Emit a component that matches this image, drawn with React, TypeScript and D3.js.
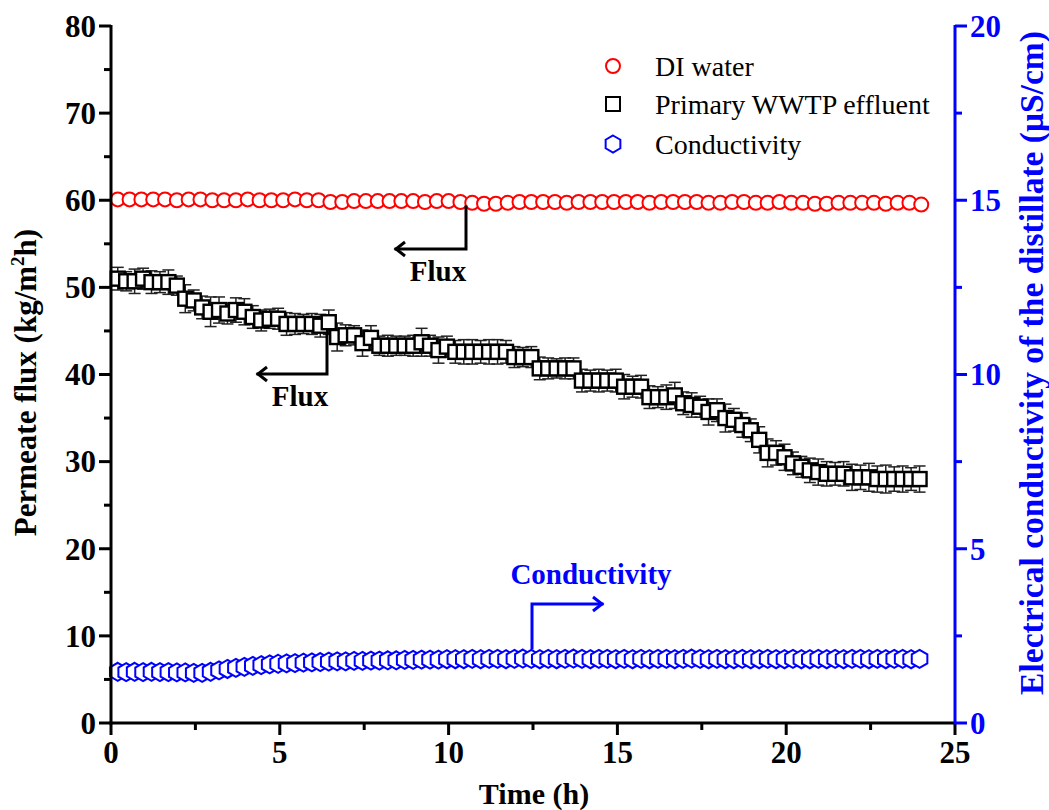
import React from 'react';
import * as d3 from 'd3';

// sampling of the runs (h)
const T0 = 0.2;
const STEP_FLUX = 0.25;
const STEP_DI = 0.35;

// DI water flux (kg/m2h)
const diWater = [
  60.1, 60.1, 60.1, 60.1, 60.1, 60.0, 60.1, 60.1, 60.0, 60.0,
  60.0, 60.1, 60.0, 60.0, 60.0, 60.1, 60.0, 60.0, 59.8, 59.8,
  59.9, 59.9, 59.9, 59.9, 59.9, 59.9, 59.8, 59.9, 59.9, 59.8,
  59.7, 59.6, 59.6, 59.7, 59.8, 59.8, 59.8, 59.8, 59.7, 59.8,
  59.8, 59.8, 59.8, 59.8, 59.8, 59.7, 59.8, 59.8, 59.8, 59.8,
  59.7, 59.7, 59.8, 59.8, 59.7, 59.7, 59.8, 59.7, 59.7, 59.6,
  59.6, 59.7, 59.7, 59.7, 59.7, 59.6, 59.7, 59.7, 59.5,
];

// primary WWTP effluent flux (kg/m2h) and its error
const wwtp = [
  51.0, 50.7, 50.7, 51.0, 50.6, 50.6, 50.6, 50.2, 48.7, 48.5,
  47.7, 47.2, 47.4, 47.0, 47.4, 47.2, 46.6, 46.2, 46.4, 46.4,
  45.8, 45.8, 45.8, 45.8, 45.6, 46.0, 44.3, 44.5, 44.5, 43.6,
  44.2, 43.3, 43.3, 43.3, 43.3, 43.3, 43.7, 43.3, 42.8, 43.2,
  42.6, 42.6, 42.6, 42.6, 42.6, 42.6, 42.6, 42.0, 42.0, 42.0,
  40.7, 40.7, 40.7, 40.7, 40.7, 39.3, 39.3, 39.3, 39.3, 39.3,
  38.6, 38.6, 38.6, 37.4, 37.4, 37.4, 37.6, 36.7, 36.5, 36.3,
  35.7, 35.9, 35.0, 34.8, 34.2, 33.6, 32.5, 31.0, 31.0, 30.5,
  29.8, 29.4, 29.0, 28.8, 28.6, 28.6, 28.6, 28.2, 28.2, 28.2,
  28.0, 28.0, 28.0, 28.0, 28.0, 28.0,
];
const wwtpErr = [
  1.3, 1.1, 1.4, 1.2, 1.3, 1.2, 1.4, 1.1, 1.6, 1.2,
  1.3, 1.7, 1.5, 1.2, 1.4, 1.5, 1.3, 1.2, 1.1, 1.2,
  1.3, 1.2, 1.1, 1.2, 1.3, 1.4, 1.6, 1.2, 1.1, 1.5,
  1.4, 1.1, 1.2, 1.1, 1.1, 1.2, 1.6, 1.2, 1.5, 1.2,
  1.3, 1.4, 1.4, 1.3, 1.4, 1.4, 1.3, 1.2, 1.1, 1.2,
  1.3, 1.2, 1.1, 1.2, 1.2, 1.3, 1.2, 1.3, 1.2, 1.3,
  1.4, 1.2, 1.3, 1.3, 1.2, 1.4, 1.5, 1.3, 1.4, 1.2,
  1.5, 1.3, 1.6, 1.3, 1.4, 1.3, 1.5, 1.6, 1.4, 1.5,
  1.3, 1.2, 1.4, 1.5, 1.4, 1.3, 1.4, 1.5, 1.4, 1.6,
  1.5, 1.6, 1.4, 1.5, 1.3, 1.5,
];

// distillate conductivity (uS/cm)
const conductivity = [
  1.47, 1.46, 1.47, 1.46, 1.47, 1.46, 1.46, 1.45, 1.45, 1.44,
  1.44, 1.47, 1.51, 1.55, 1.58, 1.61, 1.64, 1.66, 1.68, 1.70,
  1.71, 1.72, 1.73, 1.74, 1.75, 1.76, 1.77, 1.77, 1.78, 1.78,
  1.79, 1.79, 1.80, 1.80, 1.81, 1.81, 1.82, 1.82, 1.82, 1.83,
  1.83, 1.83, 1.84, 1.83, 1.84, 1.84, 1.83, 1.84, 1.85, 1.84,
  1.83, 1.84, 1.83, 1.84, 1.85, 1.84, 1.83, 1.84, 1.84, 1.83,
  1.84, 1.83, 1.84, 1.83, 1.84, 1.84, 1.83, 1.84, 1.85, 1.84,
  1.83, 1.84, 1.83, 1.83, 1.84, 1.83, 1.83, 1.84, 1.83, 1.83,
  1.84, 1.83, 1.83, 1.84, 1.83, 1.84, 1.83, 1.84, 1.84, 1.83,
  1.84, 1.83, 1.84, 1.84, 1.83, 1.84,
];

const xTicks = [0, 5, 10, 15, 20, 25];
const yLeftTicks = [0, 10, 20, 30, 40, 50, 60, 70, 80];
const yRightTicks = [0, 5, 10, 15, 20];
const legendItems = ['DI water', 'Primary WWTP effluent', 'Conductivity'];

const FONT = '"Liberation Serif", "Times New Roman", serif';
const BLUE = '#0000ff';
const RED = '#ff0000';

const hexPath = (r: number) => {
  const pts = d3.range(6).map(k => {
    const a = (Math.PI / 3) * k - Math.PI / 2;
    return [r * Math.cos(a), r * Math.sin(a)];
  });
  return 'M' + pts.map(p => p.join(',')).join('L') + 'Z';
};

export default function App() {
  const width = 1049;
  const height = 810;
  const left = 111, right = 955, top = 26, bottom = 723;

  const x = d3.scaleLinear().domain([0, 25]).range([left, right]);
  const yL = d3.scaleLinear().domain([0, 80]).range([bottom, top]);
  const yR = d3.scaleLinear().domain([0, 20]).range([bottom, top]);

  const tFlux = (i: number) => T0 + STEP_FLUX * i;
  const tDi = (i: number) => T0 + STEP_DI * i;
  const hex = hexPath(9);

  const xMinor = d3.range(0, 25.01, 2.5);
  const yLMinor = d3.range(0, 80.01, 5);
  const yRMinor = d3.range(0, 20.01, 2.5);

  // arrow helper: elbow from (x0,y0) down/up to y1, then horizontal to x1
  const arrow = (x0: number, y0: number, y1: number, x1: number, color: string) => {
    const dir = x1 < x0 ? 1 : -1;
    return (
      <g stroke={color} strokeWidth={3} fill="none" strokeLinecap="square">
        <path d={`M${x0},${y0}V${y1}H${x1}`} />
        <path d={`M${x1 + dir * 9},${y1 - 7}L${x1},${y1}L${x1 + dir * 9},${y1 + 7}`} strokeLinejoin="miter" strokeLinecap="butt" />
      </g>
    );
  };

  return (
    <div style={{ position: 'absolute', left: 0, top: 0 }}>
      <svg width={width} height={height} style={{ display: 'block', background: '#fff' }} fontFamily={FONT}>
        {/* DI water */}
        <g>
          {diWater.map((v, i) => (
            <circle key={i} cx={x(tDi(i))} cy={yL(v)} r={7} fill="#fff" stroke={RED} strokeWidth={2} />
          ))}
        </g>

        {/* WWTP effluent with error bars */}
        <g>
          {wwtp.map((v, i) => {
            const cx = x(tFlux(i));
            const e = wwtpErr[i];
            return (
              <g key={i} stroke="#222" strokeWidth={1.5}>
                <line x1={cx} x2={cx} y1={yL(v + e)} y2={yL(v - e)} />
                <line x1={cx - 6} x2={cx + 6} y1={yL(v + e)} y2={yL(v + e)} />
                <line x1={cx - 6} x2={cx + 6} y1={yL(v - e)} y2={yL(v - e)} />
              </g>
            );
          })}
          {wwtp.map((v, i) => (
            <rect key={i} x={x(tFlux(i)) - 7} y={yL(v) - 7} width={14} height={14} fill="#fff" stroke="#000" strokeWidth={2.4} />
          ))}
        </g>

        {/* conductivity */}
        <g>
          {conductivity.map((v, i) => (
            <path key={i} d={hex} transform={`translate(${x(tFlux(i))},${yR(v)})`} fill="#fff" stroke={BLUE} strokeWidth={2} />
          ))}
        </g>

        {/* annotations */}
        {arrow(466, 207, 249, 396, '#000')}
        <text x={438} y={281} textAnchor="middle" fontWeight="bold" fontSize={29}>Flux</text>
        {arrow(327, 334, 374, 258, '#000')}
        <text x={300} y={406} textAnchor="middle" fontWeight="bold" fontSize={29}>Flux</text>
        {arrow(532, 648, 604, 602, BLUE)}
        <text x={591} y={584} textAnchor="middle" fontWeight="bold" fontSize={29} fill={BLUE}>Conductivity</text>

        {/* left axis */}
        <g>
          <line x1={left} x2={left} y1={top - 1} y2={bottom + 1.5} stroke="#000" strokeWidth={3} />
          {yLMinor.map(v => (
            <line key={v} x1={left} x2={left - (v % 10 === 0 ? 12 : 7)} y1={yL(v)} y2={yL(v)} stroke="#000" strokeWidth={3} />
          ))}
          {yLeftTicks.map(v => (
            <text key={v} x={left - 15} y={yL(v)} dy="0.35em" textAnchor="end" fontWeight="bold" fontSize={31}>{v}</text>
          ))}
          <text transform={`translate(36,${(top + bottom) / 2 + 8}) rotate(-90)`} textAnchor="middle" fontWeight="bold" fontSize={31}>
            Permeate flux (kg/m<tspan fontSize={19} dy={-12}>2</tspan><tspan dy={12}>h)</tspan>
          </text>
        </g>

        {/* bottom axis */}
        <g>
          <line x1={left - 1.5} x2={right} y1={bottom} y2={bottom} stroke="#000" strokeWidth={3} />
          {xMinor.map(v => (
            <line key={v} x1={x(v)} x2={x(v)} y1={bottom} y2={bottom + (v % 5 === 0 ? 12 : 7)} stroke="#000" strokeWidth={3} />
          ))}
          {xTicks.map(v => (
            <text key={v} x={x(v)} y={bottom + 40} textAnchor="middle" fontWeight="bold" fontSize={31}>{v}</text>
          ))}
          <text x={(left + right) / 2 + 1} y={804} textAnchor="middle" fontWeight="bold" fontSize={30}>Time (h)</text>
        </g>

        {/* right axis */}
        <g>
          <line x1={right} x2={right} y1={top - 1} y2={bottom + 1.5} stroke={BLUE} strokeWidth={3} />
          {yRMinor.map(v => (
            <line key={v} x1={right} x2={right + (v % 5 === 0 ? 12 : 7)} y1={yR(v)} y2={yR(v)} stroke={BLUE} strokeWidth={3} />
          ))}
          {yRightTicks.map(v => (
            <text key={v} x={right + 15} y={yR(v)} dy="0.35em" textAnchor="start" fontWeight="bold" fontSize={31} fill={BLUE}>{v}</text>
          ))}
          <text transform={`translate(1043,363) rotate(-90)`} textAnchor="middle" fontWeight="bold" fontSize={33.5} fill={BLUE}>
            Electrical conductivity of the distillate (μS/cm)
          </text>
        </g>

        {/* legend */}
        <g>
          <circle cx={613} cy={66} r={7} fill="#fff" stroke={RED} strokeWidth={2} />
          <rect x={606} y={97} width={14} height={14} fill="#fff" stroke="#000" strokeWidth={2} />
          <path d={hexPath(8.5)} transform="translate(613,144)" fill="#fff" stroke={BLUE} strokeWidth={2} />
          {legendItems.map((s, i) => (
            <text key={s} x={655} y={[66, 104, 144][i]} dy="0.35em" fontSize={28}>{s}</text>
          ))}
        </g>
      </svg>
    </div>
  );
}
